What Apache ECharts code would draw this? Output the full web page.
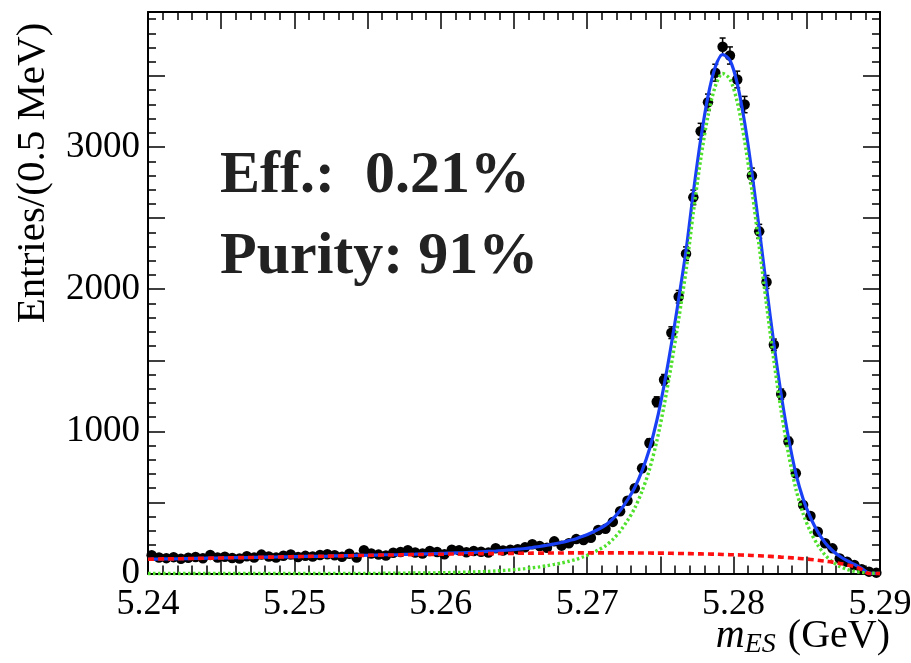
<!DOCTYPE html>
<html>
<head>
<meta charset="utf-8">
<script src="https://cdn.jsdelivr.net/npm/echarts@6/dist/echarts.min.js"></script>
<style>html,body{margin:0;padding:0;background:#fff}#c{width:911px;height:663px}</style>
</head>
<body>
<div id="c"></div>
<script>
// bin centres (GeV), 0.5 MeV bins
const binCenters = [
5.24025,5.24075,5.24125,5.24175,5.24225,5.24275,5.24325,5.24375,5.24425,5.24475,
5.24525,5.24575,5.24625,5.24675,5.24725,5.24775,5.24825,5.24875,5.24925,5.24975,
5.25025,5.25075,5.25125,5.25175,5.25225,5.25275,5.25325,5.25375,5.25425,5.25475,
5.25525,5.25575,5.25625,5.25675,5.25725,5.25775,5.25825,5.25875,5.25925,5.25975,
5.26025,5.26075,5.26125,5.26175,5.26225,5.26275,5.26325,5.26375,5.26425,5.26475,
5.26525,5.26575,5.26625,5.26675,5.26725,5.26775,5.26825,5.26875,5.26925,5.26975,
5.27025,5.27075,5.27125,5.27175,5.27225,5.27275,5.27325,5.27375,5.27425,5.27475,
5.27525,5.27575,5.27625,5.27675,5.27725,5.27775,5.27825,5.27875,5.27925,5.27975,
5.28025,5.28075,5.28125,5.28175,5.28225,5.28275,5.28325,5.28375,5.28425,5.28475,
5.28525,5.28575,5.28625,5.28675,5.28725,5.28775,5.28825,5.28875,5.28925,5.28975];

// entries per bin
const counts = [
128,112,108,115,104,111,116,107,131,113,
118,109,106,121,113,133,119,112,125,134,
116,124,120,130,136,128,118,139,112,163,
141,133,127,146,151,164,148,140,158,151,
136,167,163,149,158,153,147,178,162,167,
171,184,206,194,181,226,196,213,242,236,
252,306,314,363,438,512,600,740,918,1208,
1363,1694,1947,2250,2646,3111,3315,3523,3706,3644,
3475,3299,2799,2407,2051,1609,1262,928,705,482,
405,294,213,177,106,83,60,30,13,6];

// statistical errors per bin
const errors = [
11.3,10.6,10.4,10.7,10.2,10.5,10.8,10.3,11.4,10.6,
10.9,10.4,10.3,11.0,10.6,11.5,10.9,10.6,11.2,11.6,
10.8,11.1,11.0,11.4,11.7,11.3,10.9,11.8,10.6,12.8,
11.9,11.5,11.3,12.1,12.3,12.8,12.2,11.8,12.6,12.3,
11.7,12.9,12.8,12.2,12.6,12.4,12.1,13.3,12.7,12.9,
13.1,13.6,14.4,13.9,13.5,15.0,14.0,14.6,15.6,15.4,
15.9,17.5,17.7,19.1,20.9,22.6,24.5,27.2,30.3,34.8,
36.9,41.2,44.1,47.4,51.4,55.8,57.6,59.4,60.9,60.4,
58.9,57.4,52.9,49.1,45.3,40.1,35.5,30.5,26.6,22.0,
20.1,17.1,14.6,13.3,10.3,9.1,7.7,5.5,3.6,2.4];

// total fit (blue), read at bin centres
const fitTotal = [
101,102,103,103,104,105,106,107,108,109,
110,111,112,112,113,114,115,116,117,118,
119,120,121,121,122,124,125,126,127,128,
129,130,132,132,133,135,136,138,138,140,
142,144,145,147,149,152,155,158,162,166,
171,176,183,190,199,208,218,231,245,263,
285,310,340,385,443,517,605,724,874,1073,
1323,1612,1931,2270,2679,3051,3356,3563,3651,3610,
3447,3174,2822,2424,2012,1616,1258,953,704,524,
394,293,217,162,121,90,64,36,3,1];

// signal component (green dotted)
const fitSignal = [
0,0,0,0,0,0,0,0,0,0,
0,0,0,0,0,0,0,0,0,0,
0,0,0,0,0,1,1,1,1,1,
1,1,2,2,2,3,3,4,4,5,
6,7,8,9,11,13,15,18,21,25,
29,34,40,47,55,64,74,86,100,118,
140,165,195,240,298,372,460,580,730,930,
1180,1470,1790,2130,2540,2913,3219,3427,3517,3478,
3316,3045,2695,2299,1890,1497,1143,841,596,420,
295,200,130,82,50,29,16,8,3,1];

// background component (red dashed)
const fitBkg = [
101,102,103,103,104,105,106,107,108,109,
110,111,112,112,113,114,115,116,117,118,
119,120,121,121,122,123,124,125,126,127,
128,129,130,130,131,132,133,134,134,135,
136,137,137,138,138,139,140,140,141,141,
142,142,143,143,144,144,144,145,145,145,
145,145,145,145,145,145,145,144,144,143,
143,142,141,140,139,138,137,136,134,132,
131,129,127,125,122,119,115,112,108,104,
99,93,87,80,71,61,48,28,0,0];

// curve values at the range edges (5.24, 5.29)
const edgeX = [5.24, 5.29];
const totalEdge = [100, 0];
const signalEdge = [0, 0];
const bkgEdge = [100, 0];

const xTickLabels = ['5.24','5.25','5.26','5.27','5.28','5.29'];
const yTickLabels = ['0','1000','2000','3000'];

function curve(vals, edge) {
  const d = [[edgeX[0], edge[0]]];
  binCenters.forEach((x, i) => d.push([x, vals[i]]));
  d.push([edgeX[1], edge[1]]);
  return d;
}

const SERIF = '"Liberation Serif","Times New Roman",serif';
const chart = echarts.init(document.getElementById('c'), null, {renderer: 'canvas'});

const axisLineStyle = {show: true, onZero: false, lineStyle: {color: '#000', width: 2}};
function xAx(pos, showLabel) {
  return {
    type: 'value', position: pos, min: 5.24, max: 5.29, interval: 0.005,
    axisLine: axisLineStyle,
    axisTick: {show: true, inside: true, length: 17, lineStyle: {color: '#000', width: 1.5}},
    minorTick: {show: true, splitNumber: 5, length: 8, lineStyle: {color: '#000', width: 1.5}},
    splitLine: {show: false}, minorSplitLine: {show: false},
    axisLabel: {
      show: showLabel, margin: 13, color: '#000', fontSize: 36, fontFamily: SERIF,
      formatter: v => { const k = Math.round(v * 1000); if (k % 10 !== 0) return ''; const s = v.toFixed(2); return xTickLabels.indexOf(s) >= 0 ? s : ''; }
    }
  };
}
function yAx(pos, interval, len, showLabel, showLine) {
  return {
    type: 'value', position: pos, min: 0, max: 3950, interval: interval,
    axisLine: showLine ? axisLineStyle : {show: false},
    axisTick: {show: true, inside: true, length: len, lineStyle: {color: '#000', width: 1.5}},
    splitLine: {show: false},
    axisLabel: {
      show: showLabel, margin: 8, color: '#000', fontSize: 37, fontFamily: SERIF,
      formatter: v => { const s = String(Math.round(v)); return (Math.round(v) % 1000 === 0 && yTickLabels.indexOf(s) >= 0) ? s : ''; }
    }
  };
}

const option = {
  animation: false,
  backgroundColor: '#fff',
  grid: {left: 148, top: 12, width: 732, height: 561.5, outerBoundsMode: 'none', containLabel: false},
  xAxis: [xAx('bottom', true), xAx('top', false)],
  yAxis: [yAx('left', 500, 17, true, true), yAx('left', 100, 8, false, false),
          yAx('right', 500, 17, false, true), yAx('right', 100, 8, false, false)],
  series: [
    {
      type: 'custom', xAxisIndex: 0, yAxisIndex: 0, clip: false, z: 2,
      data: binCenters.map((x, i) => [x, counts[i], errors[i]]),
      renderItem: (params, api) => {
        const x = api.value(0), y = api.value(1), e = api.value(2);
        const t = api.coord([x, y + e]), b = api.coord([x, y - e]);
        const c = 3, st = {stroke: '#000', lineWidth: 1.5};
        return {type: 'group', children: [
          {type: 'line', shape: {x1: t[0], y1: t[1], x2: b[0], y2: b[1]}, style: st},
          {type: 'line', shape: {x1: t[0] - c, y1: t[1], x2: t[0] + c, y2: t[1]}, style: st},
          {type: 'line', shape: {x1: b[0] - c, y1: b[1], x2: b[0] + c, y2: b[1]}, style: st}
        ]};
      }
    },
    {
      type: 'scatter', xAxisIndex: 0, yAxisIndex: 0, clip: false, z: 3,
      symbol: 'circle', symbolSize: 10.5, itemStyle: {color: '#000', opacity: 1},
      data: binCenters.map((x, i) => [x, counts[i]])
    },
    {
      type: 'line', xAxisIndex: 0, yAxisIndex: 0, clip: false, z: 4, showSymbol: false, smooth: 0.3,
      lineStyle: {color: '#1a40f5', width: 3.2}, data: curve(fitTotal, totalEdge)
    },
    {
      type: 'line', xAxisIndex: 0, yAxisIndex: 0, clip: false, z: 5, showSymbol: false, smooth: 0.3,
      lineStyle: {color: '#4ee02a', width: 3.4, type: [2.5, 2.5]}, data: curve(fitSignal, signalEdge)
    },
    {
      type: 'line', xAxisIndex: 0, yAxisIndex: 0, clip: false, z: 6, showSymbol: false, smooth: 0.3,
      lineStyle: {color: '#ff1010', width: 3.6, type: [6, 4]}, data: curve(fitBkg, bkgEdge)
    }
  ],
  graphic: [
    {type: 'text', x: 220, y: 176, style: {text: 'Eff.:  0.21%', font: 'bold 60px ' + SERIF, fill: '#222', verticalAlign: 'middle'}},
    {type: 'text', x: 220, y: 257, style: {text: 'Purity: 91%', font: 'bold 60px ' + SERIF, fill: '#222', verticalAlign: 'middle'}},
    {type: 'text', x: 33, y: 173, rotation: Math.PI / 2,
     style: {text: 'Entries/(0.5 MeV)', font: '41px ' + SERIF, fill: '#000', align: 'center', verticalAlign: 'middle'}},
    {type: 'text', x: 890, y: 636,
     style: {text: '{m|m}{s|ES}{n|(GeV)}', align: 'right', verticalAlign: 'middle',
       rich: {
         m: {font: 'italic 40px ' + SERIF, fill: '#000'},
         s: {font: 'italic 28px ' + SERIF, fill: '#000', padding: [18, 0, 0, 0]},
         n: {font: '40px ' + SERIF, fill: '#000', padding: [0, 0, 0, 12]}
       }}}
  ]
};
chart.setOption(option);
</script>
</body>
</html>
